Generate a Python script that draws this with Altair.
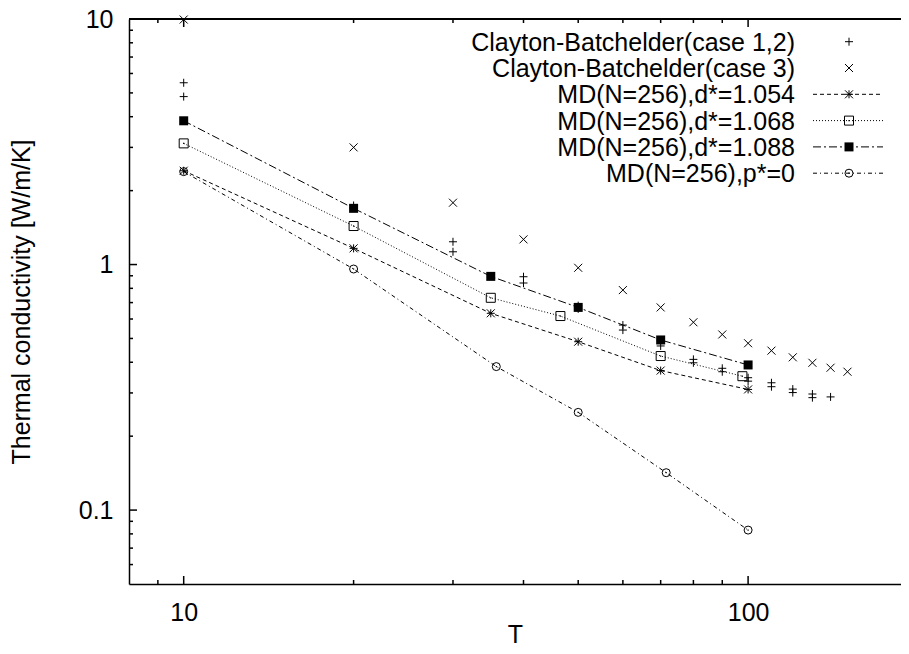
import altair as alt
import pandas as pd

# ---------------- data ----------------
cb12_T = [10, 10, 20, 20, 30, 30, 40, 40, 50, 50, 60, 60, 70, 70, 80, 80,
          90, 90, 100, 100, 110, 110, 120, 120, 130, 130, 140]
cb12_k = [5.50, 4.83, 1.74, 1.70, 1.238, 1.127, 0.892, 0.841, 0.68, 0.66,
          0.567, 0.541, 0.493, 0.466, 0.411, 0.398, 0.378, 0.366, 0.346, 0.335,
          0.33, 0.318, 0.311, 0.301, 0.297, 0.287, 0.289]

cb3_T = [10, 20, 30, 40, 50, 60, 70, 80, 90, 100, 110, 120, 130, 140, 150]
cb3_k = [9.95, 3.00, 1.786, 1.266, 0.97, 0.787, 0.669, 0.582, 0.519, 0.478,
         0.446, 0.419, 0.398, 0.380, 0.366]

d1054_T = [10, 20, 35, 50, 70, 100]
d1054_k = [2.41, 1.164, 0.633, 0.485, 0.370, 0.310]

d1068_T = [10, 20, 35, 46.5, 70, 97.7]
d1068_k = [3.115, 1.435, 0.732, 0.617, 0.424, 0.351]

d1088_T = [10, 20, 35, 50, 70, 100]
d1088_k = [3.85, 1.694, 0.895, 0.669, 0.493, 0.390]

p0_T = [10, 20, 35.8, 50, 71.6, 100]
p0_k = [2.39, 0.959, 0.384, 0.25, 0.142, 0.0829]

legend_labels = ["Clayton-Batchelder(case 1,2)", "Clayton-Batchelder(case 3)",
                 "MD(N=256),d*=1.054", "MD(N=256),d*=1.068",
                 "MD(N=256),d*=1.088", "MD(N=256),p*=0"]

x_major = [10, 100]
x_minor = [9, 20, 30, 40, 50, 60, 70, 80, 90]
y_major = [0.1, 1, 10]
y_minor = [0.06, 0.07, 0.08, 0.09, 0.2, 0.3, 0.4, 0.5, 0.6, 0.7, 0.8, 0.9,
           2, 3, 4, 5, 6, 7, 8, 9]

# ---------------- style / layout ----------------
W, H = 772, 565
FONT = "Liberation Sans"
FS = 25

xs = alt.Scale(type="log", domain=[8, 186.6], nice=False)
ys = alt.Scale(type="log", domain=[0.05, 10], nice=False)

AX = alt.Axis(values=x_major, format="~g", ticks=False, grid=False,
              domain=True, domainColor="black", domainWidth=1.5,
              labelFont=FONT, labelFontSize=FS, labelColor="black",
              labelBaseline="alphabetic", labelPadding=36,
              title="T", titleFont=FONT, titleFontSize=FS,
              titleFontWeight="normal", titleColor="black",
              titleBaseline="alphabetic", titleY=58)
AY = alt.Axis(values=y_major, format="~g", ticks=False, grid=False,
              domain=True, domainColor="black", domainWidth=1.5,
              labelFont=FONT, labelFontSize=FS, labelColor="black",
              labelPadding=16, labelBaseline="middle",
              title="Thermal conductivity [W/m/K]", titleFont=FONT,
              titleFontSize=FS, titleFontWeight="normal",
              titleColor="black", titleBaseline="alphabetic",
              titleX=-100)

PLUS = "M-1,0L1,0M0,-1L0,1"
CROSS = "M-1,-1L1,1M-1,1L1,-1"
STAR = "M-1,0L1,0M0,-1L0,1M-1,-1L1,1M-1,1L1,-1"


def frame(T, k):
    return pd.DataFrame({"T": T, "k": k})


def X():
    return alt.X("T:Q", scale=xs, axis=AX)


def Y():
    return alt.Y("k:Q", scale=ys, axis=AY)


def pts(df, shape, filled=False, size=64):
    return alt.Chart(df).mark_point(shape=shape, filled=filled, size=size,
                                    color="black", strokeWidth=1, opacity=1
                                    ).encode(x=X(), y=Y())


def dots(df):
    return alt.Chart(df).mark_point(shape="square", filled=True, size=1.5,
                                    color="black", opacity=1).encode(x=X(), y=Y())


def line(df, dash):
    return alt.Chart(df).mark_line(color="black", strokeWidth=1,
                                   strokeDash=dash).encode(x=X(), y=Y())


dashes = {"d1054": [4, 3], "d1068": [1, 2], "d1088": [8, 3, 2, 3], "p0": [4, 3, 1, 3]}

df12 = frame(cb12_T, cb12_k)
df3 = frame(cb3_T, cb3_k)
dfa = frame(d1054_T, d1054_k)
dfb = frame(d1068_T, d1068_k)
dfc = frame(d1088_T, d1088_k)
dfd = frame(p0_T, p0_k)


def xticks(vals, length):
    d = pd.DataFrame({"T": vals})
    bot = alt.Chart(d).mark_rule(color="black", strokeWidth=1.5).encode(
        x=X(), y=alt.value(H), y2=alt.value(H - length))
    top = alt.Chart(d).mark_rule(color="black", strokeWidth=1.5).encode(
        x=X(), y=alt.value(0), y2=alt.value(length))
    return [bot, top]


def yticks(vals, length):
    d = pd.DataFrame({"k": vals})
    return [alt.Chart(d).mark_rule(color="black", strokeWidth=1.5).encode(
        y=Y(), x=alt.value(0), x2=alt.value(length))]


top_border = alt.Chart(df3).mark_rule(color="black", strokeWidth=1.5).encode(
    x=alt.value(0), x2=alt.value(W), y=alt.value(0))

layers = [top_border]
layers += xticks(x_major, 8) + xticks(x_minor, 4)
layers += yticks(y_major, 8) + yticks(y_minor, 4)

# data lines
layers += [line(dfa, dashes["d1054"]), line(dfb, dashes["d1068"]),
           line(dfc, dashes["d1088"]), line(dfd, dashes["p0"])]
# data points
layers += [pts(df12, PLUS), pts(df3, CROSS), pts(dfa, STAR),
           pts(dfb, "square", size=81), dots(dfb),
           pts(dfc, "square", filled=True, size=81),
           pts(dfd, "circle", size=64), dots(dfd)]

# ---------------- legend (gnuplot style, top right) ----------------
LX_TEXT = 666
LX0, LX1, LXS = 684, 754, 720
ROW0, DROW = 22.7, 26.3
ONE = pd.DataFrame({"a": [0]})
leg_sym = [("p", PLUS, False, 64), ("p", CROSS, False, 64), ("p", STAR, False, 64),
           ("sq", "square", False, 81), ("p", "square", True, 81), ("ci", "circle", False, 64)]
leg_dash = [None, None, dashes["d1054"], dashes["d1068"], dashes["d1088"], dashes["p0"]]

for i, lab in enumerate(legend_labels):
    yc = ROW0 + DROW * i
    layers.append(alt.Chart(ONE).mark_text(
        text=lab, font=FONT, fontSize=FS, align="right", baseline="alphabetic",
        color="black").encode(x=alt.value(LX_TEXT), y=alt.value(yc + 9)))
    if leg_dash[i] is not None:
        layers.append(alt.Chart(ONE).mark_rule(color="black", strokeWidth=1,
                                               strokeDash=leg_dash[i]).encode(
            x=alt.value(LX0), x2=alt.value(LX1), y=alt.value(yc)))
    kind, shape, filled, size = leg_sym[i]
    layers.append(alt.Chart(ONE).mark_point(shape=shape, filled=filled, size=size,
                                            color="black", strokeWidth=1, opacity=1
                                            ).encode(x=alt.value(LXS), y=alt.value(yc)))
    if kind in ("sq", "ci"):
        layers.append(alt.Chart(ONE).mark_point(shape="square", filled=True, size=1.5,
                                                color="black", opacity=1
                                                ).encode(x=alt.value(LXS), y=alt.value(yc)))

chart = alt.layer(*layers).properties(
    width=W, height=H,
    padding={"left": 121, "top": 11, "right": 0, "bottom": 62},
    autosize=alt.AutoSizeParams(type="none"),
).configure_view(stroke=None)

chart.save("out.html", embed_options={"renderer": "svg", "actions": False})
